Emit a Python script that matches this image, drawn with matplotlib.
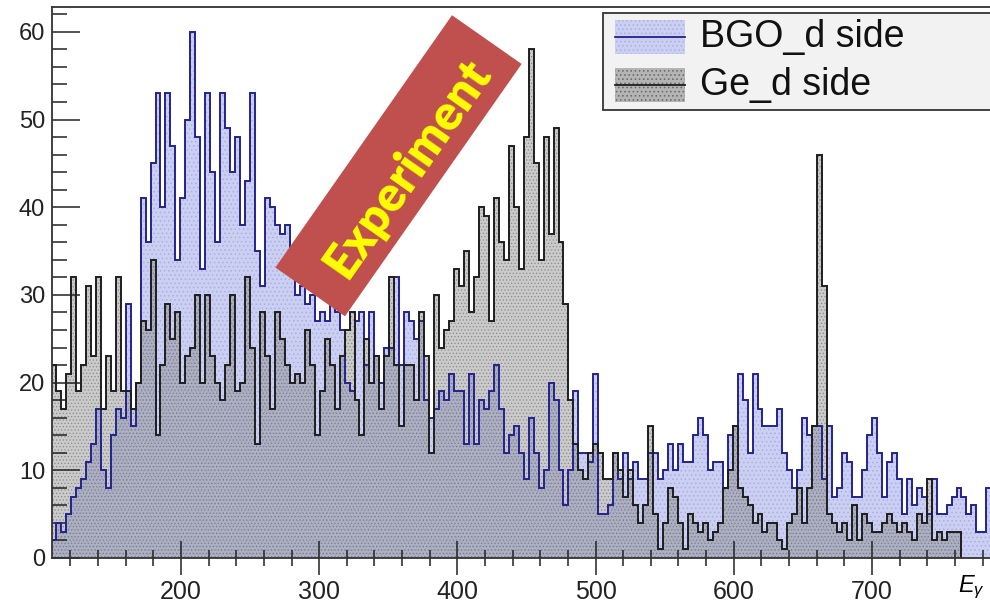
import numpy as np
import matplotlib
matplotlib.use('Agg')
import matplotlib.pyplot as plt
from matplotlib.patches import Polygon, Rectangle
from matplotlib.lines import Line2D
from matplotlib.ticker import MultipleLocator

plt.rcParams['font.family'] = ['Liberation Sans', 'DejaVu Sans']
plt.rcParams['mathtext.fontset'] = 'custom'
plt.rcParams['mathtext.it'] = 'Liberation Sans:italic'
plt.rcParams['mathtext.rm'] = 'Liberation Sans'
plt.rcParams['hatch.linewidth'] = 0.6

# HISTOGRAM DATA (counts per bin)

bin_start = 106.0
bin_width = 3.6

bgo_counts = [
    2, 4, 3, 5, 7, 8, 9, 11, 13, 17,
    10, 8, 14, 17, 16, 29, 15, 20, 41, 36,
    45, 53, 40, 53, 47, 34, 41, 50, 60, 48,
    33, 53, 44, 36, 53, 49, 44, 48, 38, 43,
    53, 35, 31, 41, 40, 38, 37, 38, 33, 30,
    31, 29, 30, 27, 28, 27, 29, 28, 26, 20,
    19, 27, 28, 22, 28, 23, 20, 24, 24, 32,
    22, 28, 27, 25, 27, 18, 16, 17, 19, 18,
    21, 19, 19, 13, 21, 13, 18, 17, 19, 22,
    17, 12, 14, 15, 12, 9, 16, 12, 8, 10,
    20, 18, 10, 6, 10, 19, 12, 12, 11, 21,
    5, 5, 6, 12, 9, 12, 9, 11, 9, 9,
    12, 12, 9, 10, 13, 10, 13, 11, 11, 14,
    16, 14, 10, 11, 11, 8, 14, 15, 21, 18,
    12, 21, 17, 15, 15, 15, 17, 12, 10, 8,
    10, 16, 14, 15, 15, 9, 15, 7, 8, 12,
    11, 7, 7, 10, 14, 16, 12, 7, 11, 12,
    9, 5, 9, 6, 8, 7, 5, 9, 5, 5,
    6, 7, 8, 7, 5, 6, 3, 3, 8,
]

ge_counts = [
    22, 19, 17, 21, 32, 19, 22, 31, 23, 32,
    17, 23, 19, 32, 19, 19, 17, 20, 27, 26,
    34, 14, 22, 29, 25, 28, 20, 23, 24, 30,
    20, 30, 23, 20, 18, 22, 30, 19, 20, 32,
    24, 13, 28, 23, 17, 28, 25, 22, 20, 21,
    20, 26, 22, 14, 19, 25, 22, 17, 23, 26,
    28, 18, 14, 25, 20, 23, 17, 23, 32, 22,
    15, 22, 22, 18, 28, 23, 12, 30, 24, 26,
    27, 33, 31, 35, 28, 32, 40, 39, 27, 41,
    36, 34, 47, 40, 33, 48, 58, 45, 34, 48,
    37, 49, 36, 29, 18, 13, 10, 9, 12, 13,
    12, 9, 9, 12, 10, 7, 10, 6, 4, 6,
    15, 5, 1, 4, 8, 7, 4, 1, 5, 4,
    3, 4, 2, 3, 4, 8, 10, 15, 8, 7,
    6, 4, 5, 3, 4, 4, 2, 1, 4, 5,
    8, 4, 8, 15, 46, 31, 5, 4, 3, 4,
    2, 6, 2, 5, 4, 3, 3, 4, 5, 4,
    3, 4, 3, 2, 5, 4, 9, 2, 3, 2,
    3, 3, 3,
]

x_ticks = [200, 300, 400, 500, 600, 700]
y_ticks = [0, 10, 20, 30, 40, 50, 60]
legend_labels = ['BGO_d side', 'Ge_d side']
banner_text = 'Experiment'

bgo_edges = bin_start + bin_width * np.arange(len(bgo_counts) + 1)
ge_edges = bin_start + bin_width * np.arange(len(ge_counts) + 1)

# COLOURS

bgo_fill = '#cbcff3'
bgo_line = '#23238c'
ge_fill = '#8c8c8c'
ge_line = '#1e1e1e'

# FIGURE

W, H = 990, 607
fig = plt.figure(figsize=(W / 100, H / 100), dpi=100)
ax = fig.add_axes([52 / W, 1 - 558 / H, 940 / W, 551 / H])

ax.stairs(bgo_counts, bgo_edges, fill=True, facecolor=bgo_fill,
          edgecolor='#aab0dc', hatch='....', lw=0, zorder=1)
ax.stairs(ge_counts, ge_edges, fill=True, facecolor=ge_fill, alpha=0.45,
          edgecolor='#555555', hatch='.....', lw=0, zorder=1.1)
ax.stairs(bgo_counts, bgo_edges, color=bgo_line, lw=1.4, zorder=2)
ax.stairs(ge_counts, ge_edges, color=ge_line, lw=1.4, zorder=2.1)

ax.set_xlim(106.7, 106.7 + 940 / 1.382)
ax.set_ylim(0, 551 / 8.77)

ax.set_xticks(x_ticks)
ax.set_yticks(y_ticks)
ax.xaxis.set_minor_locator(MultipleLocator(20))
ax.yaxis.set_minor_locator(MultipleLocator(2))

ax.tick_params(axis='x', which='major', direction='inout', length=24, width=1.1,
               labelsize=18, pad=4, colors='#222222', top=False)
ax.tick_params(axis='x', which='minor', direction='inout', length=11, width=1.1,
               colors='#222222', top=False)
ax.tick_params(axis='y', which='major', direction='in', length=20, width=1.1,
               labelsize=17, pad=5, colors='#222222', right=False)
ax.tick_params(axis='y', which='minor', direction='in', length=11, width=1.1,
               colors='#222222', right=False)

for side in ['left', 'bottom', 'top']:
    ax.spines[side].set_linewidth(1.3)
    ax.spines[side].set_color('#333333')
ax.spines['right'].set_visible(False)

fig.text(958 / W, 1 - 574 / H, r'$E_{\gamma}$', ha='left', va='top', fontsize=17)

# LEGEND (drawn by hand to match the ROOT box)

fig.add_artist(Rectangle((603 / W, 1 - 110 / H), 400 / W, 97 / H,
                         transform=fig.transFigure, facecolor='#f2f2f2',
                         edgecolor='#333333', lw=1.3, zorder=5))

entry_rows = [37, 85]
entry_fills = [bgo_fill, '#b4b4b4']
entry_hatch = ['#aab0dc', '#666666']
entry_lines = [bgo_line, ge_line]
for row, label, fc, hc, lc in zip(entry_rows, legend_labels, entry_fills,
                                  entry_hatch, entry_lines):
    fig.add_artist(Rectangle((615 / W, 1 - (row + 17) / H), 70 / W, 34 / H,
                             transform=fig.transFigure, facecolor=fc,
                             edgecolor=hc, hatch='....', lw=0, zorder=6))
    fig.add_artist(Line2D([615 / W, 685 / W], [1 - row / H, 1 - row / H],
                          transform=fig.transFigure, color=lc, lw=1.3, zorder=7))
    fig.text(700 / W, 1 - row / H, label, ha='left', va='center',
             fontsize=27, color='#111111', zorder=7)

# BANNER

cx, cy = 398.5, H - 165.75
length, width = 308, 85
ang = np.deg2rad(55)
u = np.array([np.cos(ang), np.sin(ang)])
v = np.array([-np.sin(ang), np.cos(ang)])
c = np.array([cx, cy])
corners = [c + length / 2 * u + width / 2 * v,
           c + length / 2 * u - width / 2 * v,
           c - length / 2 * u - width / 2 * v,
           c - length / 2 * u + width / 2 * v]
corners = [(p[0] / W, p[1] / H) for p in corners]
fig.add_artist(Polygon(corners, closed=True, transform=fig.transFigure,
                       facecolor='#c0504d', edgecolor='none', zorder=8))
fig.text(408 / W, 1 - 168 / H, banner_text, rotation=55, rotation_mode='anchor',
         ha='center', va='center', color='#ffff00', fontsize=35,
         fontweight='heavy', family=['Lato', 'DejaVu Sans'], zorder=9)

fig.savefig('out.png', dpi=100)
